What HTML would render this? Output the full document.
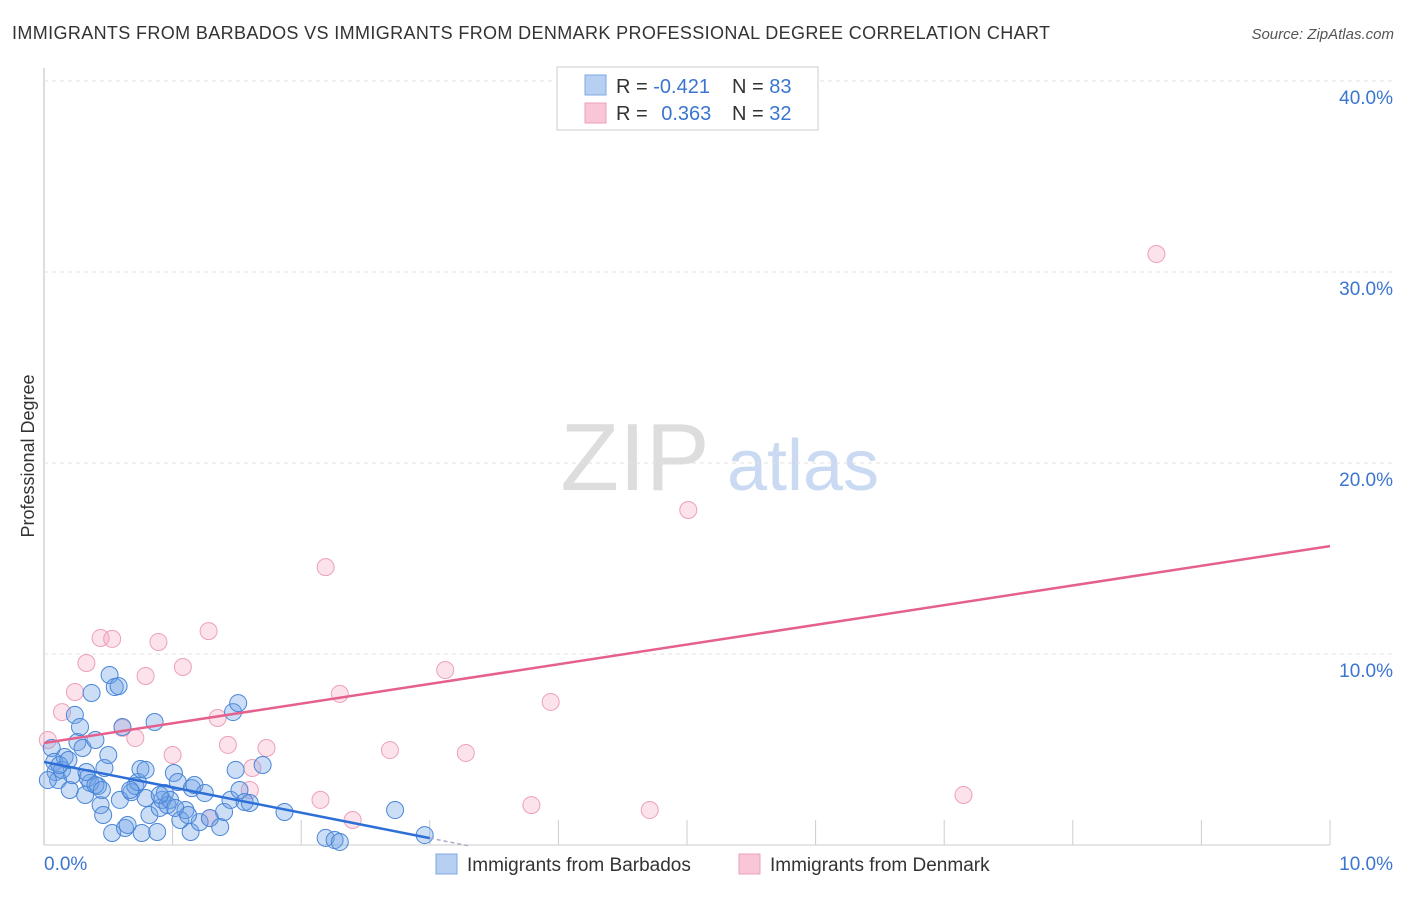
<!DOCTYPE html>
<html><head><meta charset="utf-8"><style>
body{margin:0;background:#fff;font-family:"Liberation Sans",sans-serif;}
svg text{font-family:"Liberation Sans",sans-serif;}
</style></head><body>
<svg id="chart" width="1406" height="892">
<text x="12" y="39" font-size="18" fill="#333" textLength="1038" lengthAdjust="spacing">IMMIGRANTS FROM BARBADOS VS IMMIGRANTS FROM DENMARK PROFESSIONAL DEGREE CORRELATION CHART</text>
<text x="1394" y="39" font-size="15" fill="#555" font-style="italic" text-anchor="end">Source: ZipAtlas.com</text>
<text x="34" y="456" font-size="18" fill="#333" transform="rotate(-90 34 456)" text-anchor="middle">Professional Degree</text>
<g><text x="635" y="490" font-size="96" fill="#ddd" font-family="Liberation Serif" text-anchor="middle">ZIP</text><text x="803" y="490" font-size="72" fill="#c9daf2" text-anchor="middle">atlas</text></g>
<g id="grid"></g><g id="marks"></g>
<g>
<rect x="557" y="67" width="261" height="63" fill="#fff" stroke="#ccc"/>
<rect x="585" y="75" width="21" height="20" fill="#b7d0f2" stroke="#7fa8e0"/>
<rect x="585" y="103" width="21" height="20" fill="#f8c6d6" stroke="#eda0b9"/>
<text x="616" y="93" font-size="20" fill="#333">R = <tspan fill="#3a75d0">-0.421</tspan></text>
<text x="732" y="93" font-size="20" fill="#333">N = <tspan fill="#3a75d0">83</tspan></text>
<text x="616" y="120" font-size="20" fill="#333">R = <tspan fill="#3a75d0" dx="8">0.363</tspan></text>
<text x="732" y="120" font-size="20" fill="#333">N = <tspan fill="#3a75d0">32</tspan></text>
</g>
<g>
<rect x="436" y="854" width="21" height="20" fill="#b7d0f2" stroke="#7fa8e0"/>
<text x="467" y="871" font-size="19" fill="#333">Immigrants from Barbados</text>
<rect x="739" y="854" width="21" height="20" fill="#f8c6d6" stroke="#eda0b9"/>
<text x="770" y="871" font-size="19" fill="#333">Immigrants from Denmark</text>
</g>
</svg>
<script>
const yTicks=[10,20,30,40];
const yTickLabels=["10.0%","20.0%","30.0%","40.0%"];
const xTickLabels=["0.0%","10.0%"];
const blueX=[0.06,0.08,0.09,0.11,0.14,0.16,0.20,0.22,0.24,0.26,0.28,0.30,0.32,0.34,0.36,0.37,0.40,0.42,0.44,0.46,0.47,0.50,0.51,0.53,0.55,0.58,0.59,0.61,0.63,0.65,0.68,0.71,0.73,0.75,0.76,0.79,0.82,0.86,0.88,0.90,0.92,0.94,0.96,0.98,1.01,1.04,1.06,1.10,1.14,1.15,1.17,1.21,1.25,1.29,1.37,1.40,1.45,1.47,1.49,1.51,1.52,1.56,1.60,1.70,1.87,2.19,2.26,2.30,2.73,2.96,0.03,0.12,0.19,0.33,0.40,0.45,0.79,0.90,1.02,1.12,0.67];
const blueY=[5.08,4.35,3.82,3.40,3.93,4.61,2.88,3.66,6.81,5.39,6.18,5.08,2.62,3.51,3.25,7.96,5.50,3.09,2.09,1.57,4.03,4.71,8.90,0.63,8.27,8.32,2.36,6.18,0.89,1.05,2.77,3.09,3.30,3.98,0.63,3.93,1.57,6.44,0.68,1.94,2.36,2.72,2.09,2.36,3.77,3.30,1.31,1.83,0.68,2.98,3.14,1.20,2.72,1.41,0.94,1.73,2.36,6.96,3.93,7.43,2.88,2.25,2.20,4.19,1.73,0.37,0.26,0.16,1.83,0.52,3.40,4.19,4.45,3.82,3.14,2.88,2.46,2.62,1.94,1.57,2.88];
const pinkX=[0.03,0.14,0.24,0.33,0.44,0.53,0.61,0.71,0.79,0.89,1.00,1.08,1.28,1.35,1.43,1.60,1.62,1.73,2.15,2.19,2.30,2.40,2.69,3.12,3.28,3.79,3.94,4.71,5.01,7.15,8.65,1.29];
const pinkY=[5.50,6.96,8.01,9.53,10.84,10.79,6.13,5.60,8.85,10.63,4.71,9.32,11.20,6.65,5.24,2.88,4.03,5.08,2.36,14.55,7.91,1.31,4.97,9.16,4.82,2.09,7.49,1.83,17.54,2.62,30.94,1.41];
const blueTrend=[4.35,-1.33];
const pinkTrend=[5.34,1.031];
const NS="http://www.w3.org/2000/svg";
const sx=v=>44+v*128.6, sy=v=>845-v*19.1;
function mk(tag,attrs,parent){const e=document.createElementNS(NS,tag);for(const k in attrs)e.setAttribute(k,attrs[k]);parent.appendChild(e);return e;}
const grid=document.getElementById('grid'),marks=document.getElementById('marks');
mk('line',{x1:44,y1:68,x2:44,y2:845,stroke:'#bbb'},grid);
mk('line',{x1:44,y1:845,x2:1330,y2:845,stroke:'#ccc'},grid);
yTicks.forEach((t,i)=>{
 const l=mk('line',{x1:44,y1:sy(t),x2:1394,y2:sy(t),stroke:'#e2e2e2','stroke-dasharray':'4,4'},grid);
 
 
 const tx=mk('text',{x:1393,y:sy(t)+23,'font-size':19,fill:'#3a75d0','text-anchor':'end'},grid);tx.textContent=yTickLabels[i];
 
 
});
for(let i=1;i<=10;i++){mk('line',{x1:sx(i),y1:820,x2:sx(i),y2:845,stroke:'#ccc'},grid);}
const xl0=mk('text',{x:44,y:870,'font-size':19,fill:'#3a75d0'},grid);xl0.textContent=xTickLabels[0];


const xl1=mk('text',{x:1393,y:870,'font-size':19,fill:'#3a75d0','text-anchor':'end'},grid);xl1.textContent=xTickLabels[1];


pinkX.forEach((x,i)=>{const c=mk('circle',{cx:sx(x),cy:sy(pinkY[i]),r:8.5,fill:'rgba(245,160,190,0.3)',stroke:'#eda0b9','stroke-width':1},marks);
 
 });
blueX.forEach((x,i)=>{const c=mk('circle',{cx:sx(x),cy:sy(blueY[i]),r:8.5,fill:'rgba(110,160,230,0.35)',stroke:'#4a86d8','stroke-width':1},marks);
 
 });
const pl=mk('line',{x1:sx(0),y1:sy(pinkTrend[0]),x2:sx(10),y2:sy(pinkTrend[0]+10*pinkTrend[1]),stroke:'#e5608c','stroke-width':2.5},marks);


const bl=mk('line',{x1:sx(0),y1:sy(blueTrend[0]),x2:sx(3),y2:sy(blueTrend[0]+3*blueTrend[1]),stroke:'#2d6fd6','stroke-width':2.5},marks);


const bd=mk('line',{x1:sx(3),y1:sy(blueTrend[0]+3*blueTrend[1]),x2:sx(3.3),y2:sy(blueTrend[0]+3.3*blueTrend[1]),stroke:'#aac','stroke-width':1.5,'stroke-dasharray':'4,3'},marks);


</script>
</body></html>
